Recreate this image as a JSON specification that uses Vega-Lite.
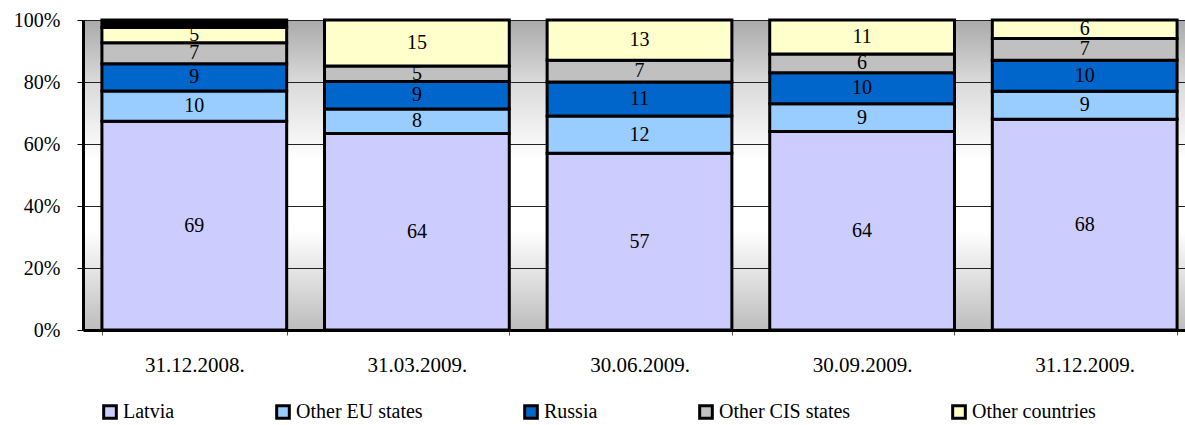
{
  "$schema": "https://vega.github.io/schema/vega-lite/v6.json",
  "width": 1102,
  "height": 310,
  "autosize": {"type": "none"},
  "padding": {"left": 83, "top": 20, "right": 0, "bottom": 95},
  "background": "white",
  "config": {
    "font": "Liberation Serif",
    "view": {
      "stroke": null,
      "fill": {
        "gradient": "linear", "x1": 0, "y1": 0, "x2": 0, "y2": 1,
        "stops": [
          {"offset": 0, "color": "#aaaaaa"},
          {"offset": 0.2, "color": "#dadada"},
          {"offset": 0.45, "color": "#ffffff"},
          {"offset": 0.68, "color": "#ffffff"},
          {"offset": 1, "color": "#bdbdbd"}
        ]
      }
    }
  },
  "data": {
    "values": [
      {"date": "31.12.2008.", "series": "Latvia", "value": 69},
      {"date": "31.12.2008.", "series": "Other EU states", "value": 10},
      {"date": "31.12.2008.", "series": "Russia", "value": 9},
      {"date": "31.12.2008.", "series": "Other CIS states", "value": 7},
      {"date": "31.12.2008.", "series": "Other countries", "value": 5},
      {"date": "31.12.2008.", "series": "n/a", "value": 2.5},
      {"date": "31.03.2009.", "series": "Latvia", "value": 64},
      {"date": "31.03.2009.", "series": "Other EU states", "value": 8},
      {"date": "31.03.2009.", "series": "Russia", "value": 9},
      {"date": "31.03.2009.", "series": "Other CIS states", "value": 5},
      {"date": "31.03.2009.", "series": "Other countries", "value": 15},
      {"date": "30.06.2009.", "series": "Latvia", "value": 57},
      {"date": "30.06.2009.", "series": "Other EU states", "value": 12},
      {"date": "30.06.2009.", "series": "Russia", "value": 11},
      {"date": "30.06.2009.", "series": "Other CIS states", "value": 7},
      {"date": "30.06.2009.", "series": "Other countries", "value": 13},
      {"date": "30.09.2009.", "series": "Latvia", "value": 64},
      {"date": "30.09.2009.", "series": "Other EU states", "value": 9},
      {"date": "30.09.2009.", "series": "Russia", "value": 10},
      {"date": "30.09.2009.", "series": "Other CIS states", "value": 6},
      {"date": "30.09.2009.", "series": "Other countries", "value": 11},
      {"date": "31.12.2009.", "series": "Latvia", "value": 68},
      {"date": "31.12.2009.", "series": "Other EU states", "value": 9},
      {"date": "31.12.2009.", "series": "Russia", "value": 10},
      {"date": "31.12.2009.", "series": "Other CIS states", "value": 7},
      {"date": "31.12.2009.", "series": "Other countries", "value": 6}
    ]
  },
  "transform": [
    {"calculate": "indexof(['Latvia','Other EU states','Russia','Other CIS states','Other countries','n/a'], datum.series)", "as": "k"}
  ],
  "encoding": {
    "x": {
      "field": "date", "type": "nominal", "sort": null,
      "scale": {"range": [0, 1113], "paddingInner": 0.17, "paddingOuter": 0.085},
      "axis": {
        "title": null, "labelAngle": 0, "labelFontSize": 21, "labelColor": "black",
        "labelPadding": 19, "tickBand": "extent", "tickColor": "#555", "tickSize": 5,
        "domainColor": "black", "domainWidth": 3
      }
    },
    "y": {
      "field": "value", "type": "quantitative", "stack": "normalize",
      "scale": {"domain": [0, 1]},
      "axis": {
        "title": null, "format": ".0%", "values": [0, 0.2, 0.4, 0.6, 0.8, 1],
        "labelFontSize": 20, "labelColor": "black", "labelPadding": 17,
        "tickColor": "black", "tickSize": 6, "domainColor": "black", "domainWidth": 3,
        "grid": true, "gridColor": "#222", "gridWidth": 1
      }
    },
    "order": {"field": "k", "type": "quantitative"}
  },
  "layer": [
    {
      "mark": {"type": "bar", "stroke": "black", "strokeWidth": 3},
      "encoding": {
        "color": {
          "field": "series", "type": "nominal",
          "scale": {
            "domain": ["Latvia", "Other EU states", "Russia", "Other CIS states", "Other countries", "n/a"],
            "range": ["#ccccff", "#99ccff", "#0066cc", "#c0c0c0", "#ffffcc", "#000000"]
          },
          "legend": {
            "title": null, "orient": "none", "legendX": 17, "legendY": 382,
            "direction": "horizontal", "columns": 5, "gridAlign": "none", "columnPadding": 95,
            "values": ["Latvia", "Other EU states", "Russia", "Other CIS states", "Other countries"],
            "symbolType": "square", "symbolSize": 160, "symbolStrokeColor": "black",
            "symbolStrokeWidth": 3, "symbolOpacity": 1, "labelFontSize": 20,
            "labelColor": "black", "labelOffset": 3, "padding": 0
          }
        }
      }
    },
    {
      "mark": {"type": "text", "fontSize": 20, "color": "black", "baseline": "middle"},
      "encoding": {
        "y": {"field": "value", "type": "quantitative", "stack": "normalize", "bandPosition": 0.5},
        "text": {
          "condition": {"test": "datum.series === 'n/a'", "value": ""},
          "field": "value", "type": "quantitative"
        }
      }
    }
  ]
}
